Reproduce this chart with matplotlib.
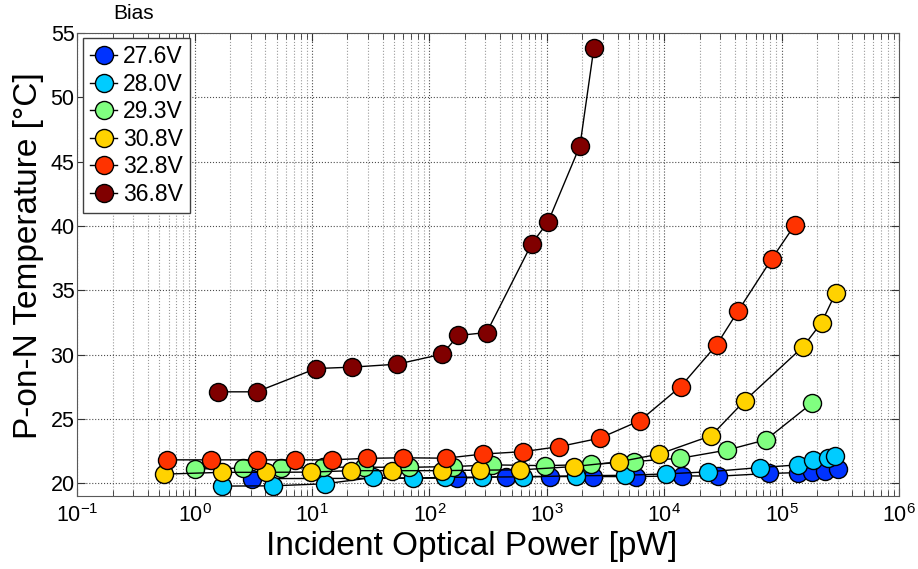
import matplotlib.pyplot as plt
import numpy as np
from matplotlib.ticker import LogLocator, NullFormatter

plt.rcParams['font.family'] = ['Liberation Sans', 'DejaVu Sans']
plt.rcParams['mathtext.fontset'] = 'custom'
plt.rcParams['mathtext.rm'] = 'Liberation Sans'

# Data : incident power [pW] and P-on-N temperature [C] per bias voltage
bias_labels = ['27.6V', '28.0V', '29.3V', '30.8V', '32.8V', '36.8V']
bias_colors = ['#0033ff', '#00ccff', '#80ff80', '#ffd200', '#ff3300', '#800000']

power_276 = [3.06, 173, 453, 1062, 2484, 5800, 14060, 28840, 77600, 138400, 180200, 233700, 303400]
temp_276 = [20.35, 20.39, 20.51, 20.51, 20.51, 20.51, 20.57, 20.54, 20.75, 20.82, 20.90, 20.97, 21.13]

power_280 = [1.70, 4.67, 12.9, 33.2, 72.3, 135.5, 281, 630, 1780, 4625, 10400, 23700, 65000,
             138400, 185900, 249400, 287300]
temp_280 = [19.77, 19.79, 19.95, 20.44, 20.39, 20.45, 20.47, 20.49, 20.57, 20.61, 20.72, 20.88,
            21.21, 21.42, 21.81, 21.94, 22.08]

power_293 = [1.006, 2.58, 5.45, 12.3, 27.7, 66.9, 158.6, 344, 964, 2384, 5485, 13600, 34200,
             73500, 180200]
temp_293 = [21.10, 21.17, 21.14, 21.24, 21.24, 21.23, 21.29, 21.42, 21.36, 21.45, 21.68, 21.93,
            22.57, 23.37, 26.20]

power_308 = [0.548, 1.708, 4.05, 9.85, 21.6, 47.9, 127, 267, 596, 1702, 4130, 9060, 25120,
             48650, 152800, 219200, 289900]
temp_308 = [20.70, 20.84, 20.84, 20.86, 20.97, 20.97, 20.97, 21.01, 21.03, 21.29, 21.66, 22.26,
            23.69, 26.42, 30.62, 32.49, 34.82]

power_328 = [0.577, 1.37, 3.37, 7.15, 14.9, 29.2, 59.8, 138, 284, 630, 1276, 2833, 6210, 13800,
             27940, 42700, 82200, 129800]
temp_328 = [21.81, 21.81, 21.81, 21.81, 21.81, 21.93, 21.97, 21.94, 22.26, 22.45, 22.84, 23.50,
            24.86, 27.51, 30.75, 33.40, 37.42, 40.09]

power_368 = [1.59, 3.37, 10.8, 22.0, 53.2, 128.5, 176, 307, 743, 1028, 1914, 2519]
temp_368 = [27.10, 27.10, 28.91, 29.02, 29.25, 30.03, 31.48, 31.71, 38.61, 40.34, 46.23, 53.87]

powers = [power_276, power_280, power_293, power_308, power_328, power_368]
temps = [temp_276, temp_280, temp_293, temp_308, temp_328, temp_368]

fig = plt.figure(figsize=(9.18, 5.69), dpi=100)
ax = fig.add_axes([0.0842, 0.1283, 0.8951, 0.8137])

# Grid
ax.grid(True, which='major', axis='both', color='0.3', linestyle=':', linewidth=0.8)
ax.grid(True, which='minor', axis='x', color='0.6', linestyle=':', linewidth=0.8)
ax.set_axisbelow(True)

for p, t, c, lab in zip(powers, temps, bias_colors, bias_labels):
    ax.semilogx(p, t, '-o', color='k', lw=1, ms=13, mfc=c, mec='k', mew=1, label=lab)

# Range / ticks
ax.set_xlim(1e-1, 1e6)
ax.set_ylim(19, 55)
ax.set_yticks(np.arange(20, 56, 5))
ax.xaxis.set_major_locator(LogLocator(base=10, numticks=10))
ax.xaxis.set_minor_locator(LogLocator(base=10, subs=np.arange(2, 10), numticks=100))
ax.xaxis.set_minor_formatter(NullFormatter())
ax.tick_params(which='both', direction='in', top=True, right=True, labelsize=15.5, color='0.2')
ax.tick_params(which='major', length=6)
ax.tick_params(which='minor', length=4)
ax.tick_params(axis='x', pad=6)
ax.tick_params(axis='y', pad=2)
for s in ax.spines.values():
    s.set_color('0.35')

ax.set_xlabel('Incident Optical Power [pW]', fontsize=24)
ax.set_ylabel('P-on-N Temperature [°C]', fontsize=24)
ax.xaxis.set_label_coords(0.48, -0.075)
ax.yaxis.set_label_coords(-0.04, 0.52)

leg = ax.legend(loc='upper left', bbox_to_anchor=(0.007, 0.989), borderaxespad=0,
                fontsize=16.5, fancybox=False, edgecolor='0.25', framealpha=1,
                handlelength=1.2, handletextpad=0.25, labelspacing=0.2, borderpad=0.3)
leg.get_frame().set_linewidth(1)
fig.text(0.146, 0.976, 'Bias', fontsize=15, ha='center', va='center')

plt.savefig('out.png', dpi=100)
